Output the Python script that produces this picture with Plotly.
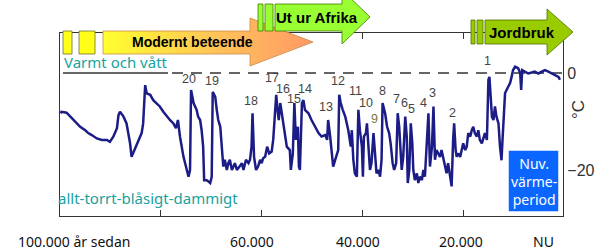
import plotly.graph_objects as go

# ---- data (thousand years before present, temperature anomaly in °C) ----
kyr = [99.9, 99.7, 98.7, 98.0, 97.0, 96.0, 95.0, 94.4, 93.7, 92.7, 91.7, 90.7, 90.1, 89.4, 88.7, 88.4, 88.1, 87.4, 86.8, 86.1,
       85.8, 85.1, 84.5, 83.8, 83.5, 83.1, 82.8, 82.1, 81.5, 80.8, 80.2, 79.5, 78.8, 78.2, 77.5, 77.0, 76.6, 76.2, 75.5, 74.9,
       74.5, 74.2, 74.0, 73.5, 73.2, 72.9, 72.6, 72.2, 71.9, 71.6, 71.4, 70.9, 70.2, 69.9, 69.7, 69.2, 68.9, 68.6, 68.2, 67.9,
       67.6, 67.3, 66.9, 66.6, 66.3, 65.9, 65.6, 65.3, 64.9, 64.4, 63.9, 63.6, 63.1, 62.6, 62.3, 62.0, 61.8, 61.5, 61.1, 60.7,
       60.3, 60.0, 59.7, 59.3, 58.9, 58.5, 58.0, 57.7, 57.3, 57.1, 56.9, 56.6, 56.3, 56.0, 55.7, 55.4, 55.0, 54.4, 54.2, 53.8,
       53.5, 53.2, 52.8, 52.6, 52.4, 52.0, 51.7, 51.4, 50.7, 50.1, 49.4, 48.7, 48.1, 47.4, 47.0, 46.8, 46.4, 46.1, 45.8, 45.4,
       45.1, 44.8, 44.6, 44.3, 43.9, 43.4, 42.8, 42.3, 42.1, 41.8, 41.5, 41.1, 40.8, 40.5, 40.1, 39.9, 39.7, 39.3, 39.1, 38.8,
       38.5, 38.2, 37.8, 37.5, 37.2, 36.8, 36.5, 36.2, 36.0, 35.5, 35.1, 34.7, 34.4, 34.0, 33.7, 33.3, 33.0, 32.7, 32.5, 32.2,
       31.9, 31.5, 31.2, 31.0, 30.7, 30.4, 30.1, 29.9, 29.6, 29.2, 28.9, 28.6, 28.2, 27.9, 27.6, 27.2, 26.9, 26.6, 26.2, 25.9,
       25.6, 25.3, 24.9, 24.6, 24.3, 23.9, 23.6, 23.3, 23.0, 22.6, 22.3, 22.0, 21.8, 21.5, 21.3, 21.0, 20.6, 20.3, 20.0, 19.6,
       19.3, 19.0, 18.6, 18.3, 18.0, 17.7, 17.3, 17.0, 16.7, 16.3, 16.0, 15.7, 15.3, 15.0, 14.8, 14.5, 14.3, 14.0, 13.7, 13.4,
       13.0, 12.7, 12.4, 12.2, 11.9, 11.7, 11.4, 11.1, 10.7, 10.4, 10.1, 9.7, 9.1, 8.7, 8.5, 8.3, 7.7, 7.1, 6.4, 5.8,
       5.1, 4.4, 3.8, 3.1, 2.4, 1.8, 1.1, 0.8]
temp = [-8.3, -8.0, -8.2, -9.0, -10.0, -11.1, -11.8, -12.4, -12.8, -13.5, -13.8, -13.8, -14.2, -13.1, -11.4, -8.7, -8.0, -9.0, -10.4, -14.5,
        -17.3, -15.5, -14.2, -12.4, -10.4, -2.5, -4.2, -4.5, -5.6, -6.2, -6.9, -8.0, -9.0, -9.7, -10.4, -11.4, -9.7, -13.1, -17.3, -20.0,
        -21.4, -20.0, -3.5, -6.2, -6.9, -7.6, -9.0, -9.7, -11.8, -15.2, -22.1, -22.1, -22.7, -21.4, -3.9, -4.9, -7.6, -9.7, -11.1, -15.9,
        -19.3, -17.9, -20.0, -18.6, -17.9, -20.0, -19.3, -18.6, -20.0, -19.3, -18.6, -20.0, -17.9, -18.6, -17.9, -15.2, -8.3, -17.3, -20.0, -19.3,
        -17.9, -18.6, -17.6, -17.3, -15.2, -16.6, -16.2, -13.8, -7.6, -4.5, -6.9, -9.7, -6.2, -8.3, -10.4, -13.1, -15.2, -15.9, -20.0, -16.6,
        -6.2, -13.8, -11.1, -19.3, -20.0, -6.2, -5.6, -7.6, -8.3, -9.7, -11.1, -12.4, -13.1, -12.8, -13.8, -9.7, -13.1, -16.6, -19.3, -17.9,
        -16.6, -15.9, -4.5, -6.2, -7.6, -9.0, -11.8, -15.2, -11.8, -17.9, -20.7, -21.4, -7.6, -11.8, -15.2, -21.4, -13.1, -12.4, -10.4, -14.5,
        -20.0, -18.6, -12.4, -16.6, -20.7, -20.0, -21.4, -17.9, -6.2, -8.3, -11.1, -12.4, -14.5, -18.6, -20.0, -18.6, -8.3, -11.1, -15.9, -20.0,
        -17.3, -9.0, -13.1, -22.7, -20.0, -10.4, -14.5, -20.0, -22.1, -20.7, -22.7, -21.4, -22.1, -20.0, -21.4, -13.8, -8.3, -19.3, -15.2, -6.9,
        -17.9, -15.9, -16.6, -17.3, -15.9, -17.9, -19.3, -20.7, -18.6, -21.4, -23.4, -13.8, -10.4, -15.9, -17.3, -16.6, -17.3, -15.9, -14.5, -15.9,
        -15.2, -12.4, -13.1, -11.8, -11.1, -12.4, -13.1, -11.8, -13.8, -14.5, -13.1, -12.4, -13.8, -1.4, -0.8, -6.9, -9.0, -9.7, -6.9, -9.0,
        -10.4, -15.2, -18.0, -13.8, -6.9, -4.2, -3.5, -2.8, -2.1, -0.8, 0.6, 1.3, 1.0, 0.0, -3.5, 0.6, 0.3, -0.1, 0.1, 0.3,
        -0.1, 0.3, 0.6, 0.3, -0.1, -0.4, -0.8, -1.4]

# interstadial (Dansgaard-Oeschger) event numbers and where they are labelled
event_names = ["20", "19", "18", "17", "16", "15", "14", "13", "12", "11",
               "10", "9", "8", "7", "6", "5", "4", "3", "2", "1"]
event_kyr = [74.4, 69.8, 62.1, 57.9, 55.8, 53.6, 51.4, 47.2, 44.8, 41.3,
             39.3, 37.7, 36.1, 33.3, 31.7, 30.2, 27.8, 26.0, 22.2, 15.1]
event_temp = [-1.2, -1.6, -5.8, -1.0, -3.3, -5.4, -3.3, -7.0, -1.6, -3.7,
              -6.2, -9.5, -3.7, -5.4, -6.2, -7.4, -6.2, -4.1, -8.2, 2.5]

# axis tick values / labels
x_ticks = [80, 60, 40, 20]
y_ticks = [0, -20]
y_ticktext = ["0", "\u221220"]
bottom_label_text = ["100.000 år sedan", "60.000", "40.000", "20.000", "NU"]
bottom_label_kyr = [97.3, 61.9, 40.9, 20.4, 4.0]

W, H = 609, 252
L, R, T, B = 59.5, 563, 33, 216

fig = go.Figure()

fig.add_trace(go.Scatter(x=kyr, y=temp, mode="lines",
                         line=dict(color="#1c1c86", width=2.5),
                         hoverinfo="skip", showlegend=False))

# ---- decorations on a full-figure pixel overlay (x2/y2) ----
def poly(xs, ys, fill, line, width=0.8, **kw):
    fig.add_trace(go.Scatter(x=xs + [xs[0]], y=ys + [ys[0]], xaxis="x2", yaxis="y2",
                             mode="lines", fill="toself", fillcolor=fill,
                             line=dict(color=line, width=width),
                             hoverinfo="skip", showlegend=False, **kw))

def rect(x0, y0, x1, y1, fill, line, width=0.8):
    poly([x0, x1, x1, x0], [y0, y0, y1, y1], fill, line, width)

# Modernt beteende (gradient arrow)
fig.add_trace(go.Scatter(
    x=[103, 250, 250, 313, 250, 250, 103, 103],
    y=[31, 31, 18, 42, 66, 54, 54, 31],
    xaxis="x2", yaxis="y2", mode="lines", fill="toself",
    fillgradient=dict(type="horizontal",
                      colorscale=[[0, "#ffff2e"], [0.55, "#ffc25a"], [1, "#ff9966"]]),
    line=dict(color="#c98a4a", width=0.8), hoverinfo="skip", showlegend=False))
rect(63, 31, 72, 54, "#ffff1a", "#707030")
rect(79, 31, 95, 54, "#ffff1a", "#707030")

# Ut ur Afrika
rect(258, 4, 263, 31, "#99ff33", "#3f7a00")
rect(265, 4, 273, 31, "#99ff33", "#3f7a00")
poly([275, 342, 342, 370, 342, 342, 275], [4, 4, -10, 17, 44, 31, 31], "#99ff33", "#3f7a00")

# Jordbruk
rect(471, 20, 475, 44, "#99cc00", "#4f6e00")
rect(477, 20, 483, 44, "#99cc00", "#4f6e00")
poly([485, 547, 547, 573, 547, 547, 485], [20, 20, 9, 32, 55, 44, 44], "#99cc00", "#4f6e00")

# Nuv. värmeperiod box
rect(509, 151, 558, 211, "#0a66ff", "#0a66ff", 0.5)

annotations = []
def txt(x, y, s, size, color="#000", family="Liberation Sans", bold=False, xanchor="center", **kw):
    annotations.append(dict(x=x, y=y, xref="x2", yref="y2", text=("<b>%s</b>" % s) if bold else s,
                            showarrow=False, xanchor=xanchor, yanchor="middle",
                            font=dict(size=size, color=color, family=family), **kw))

txt(192, 42, "Modernt beteende", 14, bold=True)
txt(317, 17, "Ut ur Afrika", 15, bold=True)
txt(522, 32, "Jordbruk", 15, bold=True)
txt(62, 62, "Varmt och vått", 15, color="#17a2a0", family="Noto Sans", xanchor="left")
txt(56, 198, "allt-torrt-blåsigt-dammigt", 15, color="#17a2a0", family="Noto Sans", xanchor="left")
txt(533.5, 181, "Nuv.<br>värme-<br>period", 14, color="#ffffff", family="Noto Sans")
txt(578, 110, "°C", 17, color="#333", textangle=-90)

for name, xk, yt in zip(event_names, event_kyr, event_temp):
    annotations.append(dict(x=xk, y=yt, xref="x", yref="y", text=name, showarrow=False,
                            font=dict(size=12.5, color="#7a7a45" if name == "9" else "#444",
                                      family="Liberation Sans")))

for s, xk in zip(bottom_label_text, bottom_label_kyr):
    annotations.append(dict(x=xk, y=241, xref="x", yref="y2", text=s, showarrow=False,
                            font=dict(size=14, color="#111", family="Noto Sans")))

shapes = [
    dict(type="line", xref="x2", yref="y", x0=63, x1=168, y0=0, y1=0,
         line=dict(color="#333", width=1.6), layer="below"),
    dict(type="line", xref="x2", yref="y", x0=172, x1=562, y0=0, y1=0,
         line=dict(color="#333", width=1.6, dash="11px,8px"), layer="below"),
]

fig.update_layout(
    width=W, height=H, margin=dict(l=0, r=0, t=0, b=0, autoexpand=False),
    paper_bgcolor="white", plot_bgcolor="rgba(0,0,0,0)", showlegend=False,
    annotations=annotations, shapes=shapes,
    xaxis=dict(domain=[L / W, R / W], range=[100.1, 0.2], tickvals=x_ticks, ticks="inside",
               ticklen=6, tickcolor="#333", showticklabels=False, showgrid=False, zeroline=False,
               showline=True, linecolor="#333", linewidth=1.3, mirror="ticks", anchor="y"),
    yaxis=dict(domain=[(H - B) / H, (H - T) / H], range=[-29.5, 8.25], side="right",
               tickvals=y_ticks, ticktext=y_ticktext, ticks="", showgrid=False, zeroline=False,
               showline=True, linecolor="#333", linewidth=1.3, mirror=True, anchor="x",
               tickfont=dict(size=16, color="#333", family="Liberation Sans")),
    yaxis3=dict(overlaying="y", side="left", range=[-29.5, 8.25], tickvals=[2.3, -20.6],
                ticks="inside", ticklen=6, tickcolor="#333", showticklabels=False,
                showgrid=False, zeroline=False, showline=False, anchor="x"),
    xaxis2=dict(domain=[0, 1], range=[0, W], visible=False, anchor="y2", fixedrange=True),
    yaxis2=dict(domain=[0, 1], range=[H, 0], visible=False, anchor="x2", fixedrange=True),
)

fig.write_html("out.html", config={"displayModeBar": False},
               post_script="document.body.style.margin='0px';document.body.style.overflow='hidden';")
